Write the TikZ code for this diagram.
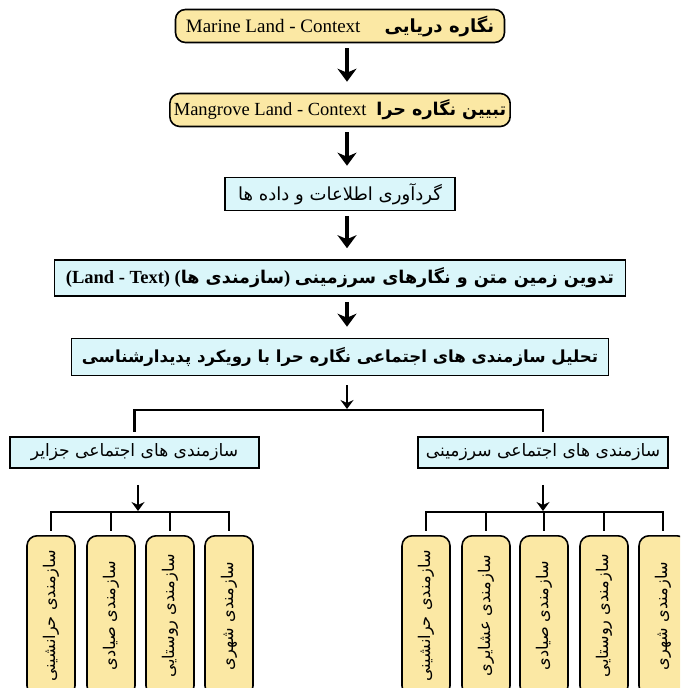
\documentclass[tikz,border=0pt]{standalone}
\usepackage{fontspec}
\setmainfont{Liberation Serif}
\newfontfamily\farsi[Script=Arabic,Scale=0.95]{DejaVu Sans}
\TeXXeTstate=1
\usetikzlibrary{arrows.meta,positioning}
\definecolor{landyellow}{RGB}{251,232,164}
\definecolor{stagecyan}{RGB}{218,246,250}
\newcommand{\fa}[1]{{\farsi\beginR #1\endR}}
\newcommand{\fab}[1]{{\farsi\bfseries\beginR #1\endR}}

\begin{document}
\begin{tikzpicture}[x=1pt,y=-1pt,node distance=84pt,
  font=\fontsize{19}{21}\selectfont,
  landbox/.style={draw,line width=1.6pt,rounded corners=10pt,fill=landyellow,minimum height=33pt,inner xsep=4pt},
  stagebox/.style={draw,line width=1.6pt,fill=stagecyan,minimum height=33pt,inner xsep=4pt},
  kindbox/.style={draw,line width=1.6pt,rounded corners=10pt,fill=landyellow,minimum width=160pt,minimum height=48pt,rotate=90,anchor=east,font=\fontsize{17}{19}\selectfont},
  bigarrow/.style={line width=3.5pt,-{Stealth[length=13pt,width=19pt,inset=4pt]},shorten <=5pt,shorten >=11pt},
  smallarrow/.style={line width=2.6pt,-{Stealth[length=9pt,width=13pt,inset=3pt]}},
  bracket/.style={line width=2.8pt,shorten >=4pt}]
  \useasboundingbox (0,0) rectangle (680,688);
  \clip (0,0) rectangle (680,688);

  % main chain
  \node[landbox,minimum width=329pt] (marine) at (340,26) {Marine Land - Context\hspace{24pt}\fab{نگاره دریایی}};
  \node[landbox,minimum width=340pt,font=\fontsize{18.5}{21}\selectfont] (mangrove) [below of=marine] {Mangrove Land - Context\hspace{10pt}\fab{تبیین نگاره حرا}};
  \node[stagebox,minimum width=230pt] (collect) [below of=mangrove] {\fa{گردآوری اطلاعات و داده ها}};
  \node[stagebox,minimum width=571pt,minimum height=36pt,font=\fontsize{18.5}{21}\selectfont\bfseries] (landtext) [below of=collect] {(Land - Text) (\fa{سازمندی ها}) \fa{تدوین زمین متن و نگارهای سرزمینی}};
  \node[stagebox,minimum width=537pt,minimum height=37pt,font=\fontsize{17.5}{21}\selectfont\bfseries] (analysis) [node distance=79pt,below of=landtext] {\fa{تحلیل سازمندی های اجتماعی نگاره حرا با رویکرد پدیدارشناسی}};

  \draw[bigarrow] ([xshift=7pt]marine.south) -- ([xshift=7pt]mangrove.north);
  \draw[bigarrow] ([xshift=7pt]mangrove.south) -- ([xshift=7pt]collect.north);
  \draw[bigarrow] ([xshift=7pt]collect.south) -- ([xshift=7pt]landtext.north);
  \draw[bigarrow] ([xshift=7pt]landtext.south) -- ([xshift=7pt]analysis.north);

  % two branches
  \node[stagebox,minimum width=249pt,minimum height=31pt,font=\fontsize{18}{20}\selectfont] (islands) at (134.5,452.5) {\fa{سازمندی های اجتماعی جزایر}};
  \node[stagebox,minimum width=250pt,minimum height=31pt,font=\fontsize{18}{20}\selectfont] (mainland) at (543,452.5) {\fa{سازمندی های اجتماعی سرزمینی}};

  \coordinate (split) at (347,410);
  \draw[smallarrow,shorten <=9pt,shorten >=1pt] ([xshift=7pt]analysis.south) -- (split);
  \draw[bracket] (split) -| (islands.north);
  \draw[bracket] (split) -| (mainland.north);

  % island kinds
  \node[kindbox] (is1) at (51,535) {\fa{سازمندی حرانشینی}};
  \node[kindbox] (is2) at (111,535) {\fa{سازمندی صیادی}};
  \node[kindbox] (is3) at (170,535) {\fa{سازمندی روستایی}};
  \node[kindbox] (is4) at (229,535) {\fa{سازمندی شهری}};

  \coordinate (isfork) at (138,512);
  \draw[smallarrow,shorten <=16pt,shorten >=1pt] (islands.south -| isfork) -- (isfork);
  \foreach \k in {1,...,4}
    \draw[bracket] (isfork) -| (is\k.east);

  % mainland kinds
  \node[kindbox] (la1) at (426,535) {\fa{سازمندی حرانشینی}};
  \node[kindbox] (la2) at (486,535) {\fa{سازمندی عشایری}};
  \node[kindbox] (la3) at (544,535) {\fa{سازمندی صیادی}};
  \node[kindbox] (la4) at (604,535) {\fa{سازمندی روستایی}};
  \node[kindbox] (la5) at (663,535) {\fa{سازمندی شهری}};

  \coordinate (lafork) at (543,512);
  \draw[smallarrow,shorten <=16pt,shorten >=1pt] (mainland.south -| lafork) -- (lafork);
  \foreach \k in {1,...,5}
    \draw[bracket] (lafork) -| (la\k.east);
\end{tikzpicture}
\end{document}
